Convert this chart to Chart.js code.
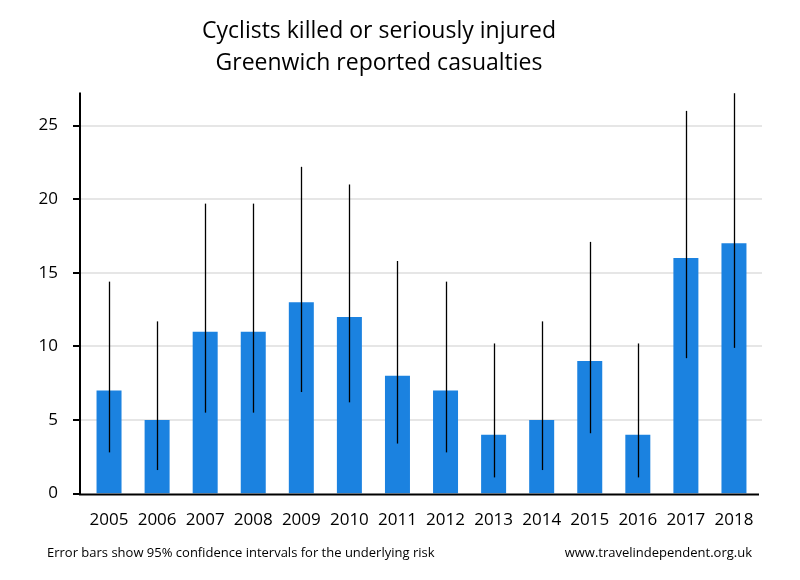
<!DOCTYPE html>
<html>
<head>
<meta charset="utf-8">
<script src="https://cdn.jsdelivr.net/npm/chart.js@4/dist/chart.umd.min.js"></script>
<style>
  body { margin: 0; background: #fff; }
  #wrap { width: 800px; height: 580px; }
</style>
</head>
<body>
<div id="wrap"><canvas id="chart" width="800" height="580"></canvas></div>
<script>
const years = ["2005", "2006", "2007", "2008", "2009", "2010", "2011",
  "2012", "2013", "2014", "2015", "2016", "2017", "2018"];
const casualties = [7, 5, 11, 11, 13, 12, 8, 7, 4, 5, 9, 4, 16, 17];
// 95% confidence interval ends
const ciLower = [2.8, 1.6, 5.5, 5.5, 6.9, 6.2, 3.4, 2.8, 1.1, 1.6, 4.1, 1.1, 9.2, 9.9];
const ciUpper = [14.4, 11.7, 19.7, 19.7, 22.2, 21.0, 15.8, 14.4, 10.2, 11.7, 17.1, 10.2, 26.0, 27.2];
const yTicks = [0, 5, 10, 15, 20, 25];

const FONT = "'Open Sans', 'DejaVu Sans', sans-serif";

// axis lines and gridlines sit a few px outside the bar area, like the original
const axisFrame = {
  id: "axisFrame",
  beforeDatasetsDraw(chart) {
    const ctx = chart.ctx;
    const area = chart.chartArea;
    const y = chart.scales.y;
    const left = area.left - 5;
    const right = area.right + 4;
    ctx.save();
    ctx.lineWidth = 2;
    ctx.strokeStyle = "#e6e6e6";
    yTicks.forEach((v) => {
      if (v === 0) return;
      const py = Math.round(y.getPixelForValue(v));
      ctx.beginPath();
      ctx.moveTo(left, py);
      ctx.lineTo(right, py);
      ctx.stroke();
    });
    ctx.strokeStyle = "#000";
    yTicks.forEach((v) => {
      const py = Math.round(y.getPixelForValue(v));
      ctx.beginPath();
      ctx.moveTo(left - 7, py);
      ctx.lineTo(left, py);
      ctx.stroke();
    });
    ctx.beginPath();
    ctx.moveTo(left, area.top);
    ctx.lineTo(left, area.bottom + 1);
    ctx.stroke();
    ctx.restore();
  },
  afterDatasetsDraw(chart) {
    const ctx = chart.ctx;
    const area = chart.chartArea;
    ctx.save();
    ctx.strokeStyle = "#000";
    ctx.lineWidth = 2;
    ctx.beginPath();
    ctx.moveTo(area.left - 6, area.bottom + 1);
    ctx.lineTo(area.right + 1, area.bottom + 1);
    ctx.stroke();
    ctx.restore();
  },
};

// vertical error bars drawn through the chart's own scales
const errorBars = {
  id: "errorBars",
  afterDatasetsDraw(chart) {
    const ctx = chart.ctx;
    const y = chart.scales.y;
    const meta = chart.getDatasetMeta(0);
    ctx.save();
    ctx.strokeStyle = "#000";
    ctx.lineWidth = 1.3;
    meta.data.forEach((bar, i) => {
      const x = Math.round(bar.x) + 0.5;
      ctx.beginPath();
      ctx.moveTo(x, y.getPixelForValue(ciLower[i]));
      ctx.lineTo(x, y.getPixelForValue(ciUpper[i]));
      ctx.stroke();
    });
    ctx.restore();
  },
};

// footer notes under the axis
const footNotes = {
  id: "footNotes",
  afterDraw(chart) {
    const ctx = chart.ctx;
    ctx.save();
    ctx.fillStyle = "#000";
    ctx.font = "13px " + FONT;
    ctx.textBaseline = "middle";
    ctx.textAlign = "left";
    ctx.fillText("Error bars show 95% confidence intervals for the underlying risk", 47, 553);
    ctx.textAlign = "right";
    ctx.fillText("www.travelindependent.org.uk", 752, 553);
    ctx.restore();
  },
};

new Chart(document.getElementById("chart"), {
  type: "bar",
  data: {
    labels: years,
    datasets: [
      {
        data: casualties,
        backgroundColor: "#1b82e0",
        barPercentage: 0.52,
        categoryPercentage: 1,
      },
    ],
  },
  options: {
    responsive: false,
    animation: false,
    layout: { padding: { left: 0, right: 42, top: 16, bottom: 42 } },
    plugins: {
      legend: { display: false },
      tooltip: { enabled: false },
      title: {
        display: true,
        text: ["Cyclists killed or seriously injured", "Greenwich reported casualties"],
        color: "#000",
        font: { family: FONT, size: 23, weight: "normal", lineHeight: 1.38 },
        padding: { top: 0, bottom: 13 },
      },
    },
    scales: {
      x: {
        grid: { display: false },
        border: { display: false },
        ticks: {
          color: "#000",
          font: { family: FONT, size: 17 },
          padding: 8,
          maxRotation: 0,
          autoSkip: false,
        },
      },
      y: {
        min: 0,
        max: 27.25,
        afterFit(scale) { scale.width = 85; },
        afterBuildTicks(scale) { scale.ticks = yTicks.map((v) => ({ value: v })); },
        border: { display: false },
        grid: { display: false },
        ticks: {
          color: "#000",
          font: { family: FONT, size: 17 },
          padding: 19,
        },
      },
    },
  },
  plugins: [axisFrame, errorBars, footNotes],
});
</script>
</body>
</html>
